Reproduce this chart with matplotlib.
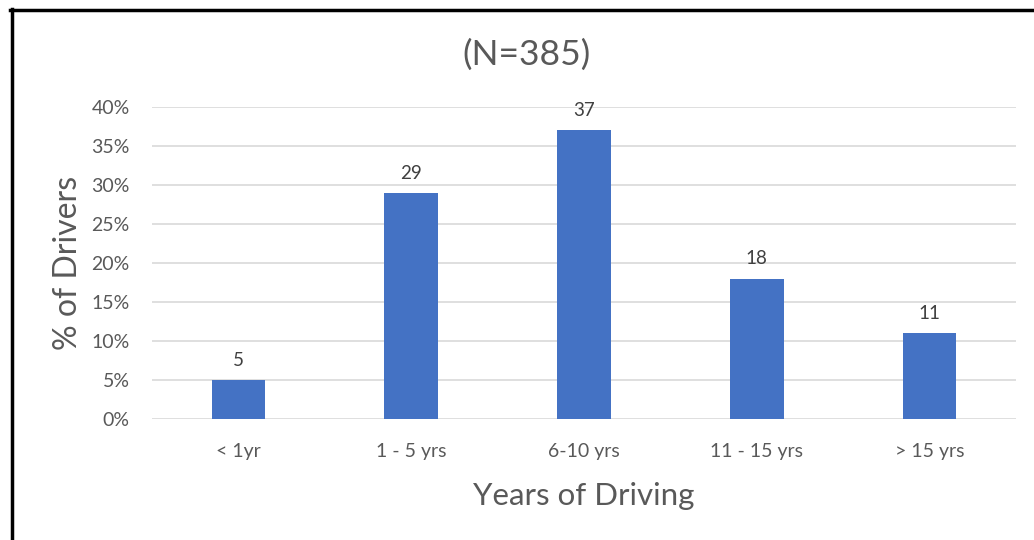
import matplotlib.pyplot as plt
import matplotlib
from matplotlib.lines import Line2D

matplotlib.rcParams.update({'font.family': ['Lato', 'DejaVu Sans']})

categories = ["< 1yr", "1 - 5 yrs", "6-10 yrs", "11 - 15 yrs", "> 15 yrs"]
pct_drivers = [5, 29, 37, 18, 11]
yticks = [0, 5, 10, 15, 20, 25, 30, 35, 40]

grey = '#595959'
fg = plt.figure(figsize=(10.34, 5.4), dpi=100)
ax = fg.add_axes([0.147, 0.2241, 0.8356, 0.5778])

x = range(len(categories))
ax.bar(x, pct_drivers, width=0.31, color='#4472C4', zorder=3)
for xi, v in zip(x, pct_drivers):
    ax.annotate(str(v), (xi, v), xytext=(0, 8), textcoords='offset points',
                ha='center', va='bottom', fontsize=13.5, color='#404040')

ax.set_xlim(-0.5, len(categories) - 0.5)
ax.set_ylim(0, 40)
ax.set_yticks(yticks)
ax.set_yticklabels([f"{t}%" for t in yticks])
ax.set_xticks(list(x))
ax.set_xticklabels(categories)
ax.tick_params(length=0, labelsize=14, colors=grey)
ax.tick_params(axis='y', pad=16)
ax.tick_params(axis='x', pad=17)
ax.grid(axis='y', color='#d9d9d9', linewidth=1.2, zorder=0)
for s in ax.spines.values():
    s.set_visible(False)

fg.text(527 / 1034, 1 - 55 / 540, "(N=385)", fontsize=25.5, color=grey,
        ha='center', va='center')
ax.set_xlabel("Years of Driving", fontsize=22.5, color=grey, labelpad=16)
ax.set_ylabel("% of Drivers", fontsize=23, color=grey, labelpad=6)

# frame lines along the left and top edges
fg.add_artist(Line2D([11.5 / 1034, 11.5 / 1034], [0, 1 - 9 / 540], color='black', linewidth=2.5))
fg.add_artist(Line2D([10 / 1034, 1], [1 - 9.5 / 540, 1 - 9.5 / 540], color='black', linewidth=2.5))

fg.savefig("out.png", dpi=100)
